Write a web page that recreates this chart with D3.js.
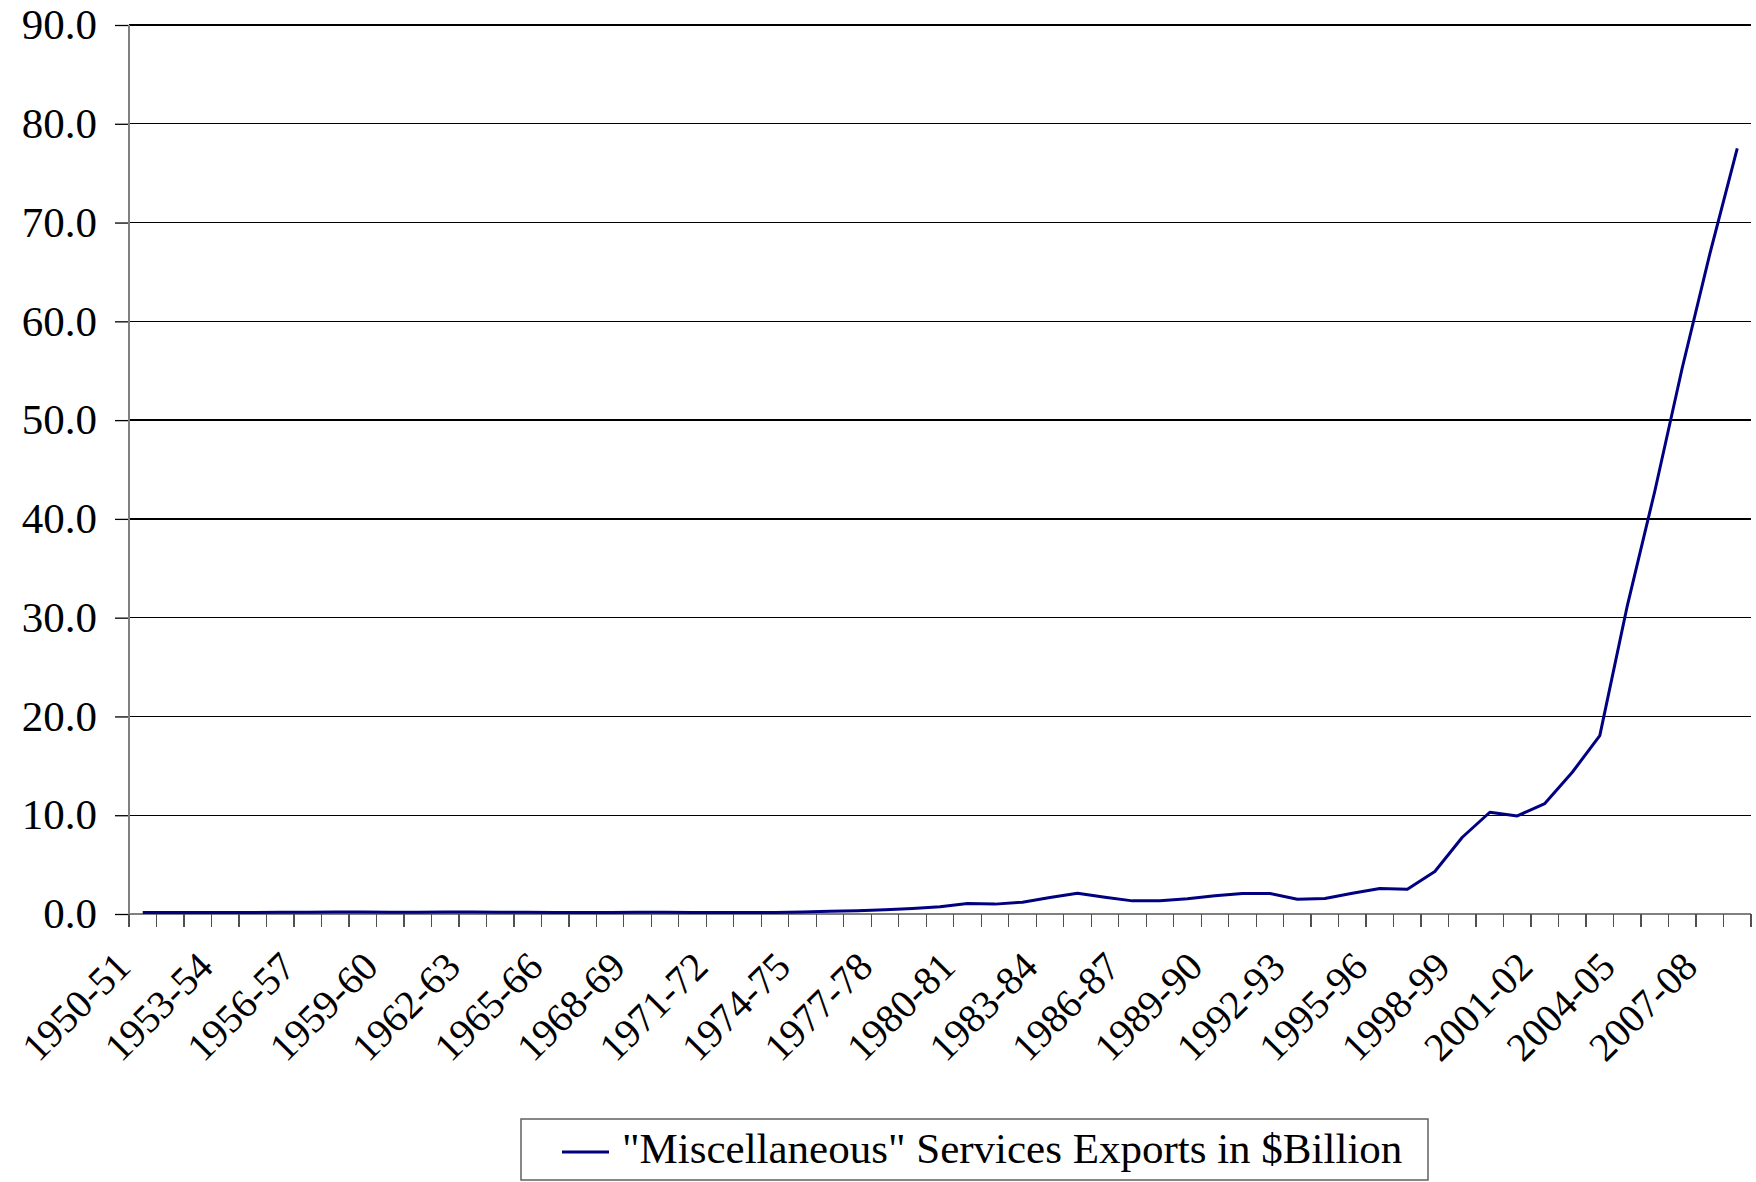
<!DOCTYPE html>
<meta charset="utf-8">
<style>
  body { margin: 0; background: #fff; }
  text { font-family: "Liberation Serif", "Times New Roman", serif; fill: #000; }
</style>
<svg width="1756" height="1182"></svg>
<script src="https://d3js.org/d3.v7.min.js"></script>
<script>

    // data (US$ billion)
    var years = ["1950-51","1951-52","1952-53","1953-54","1954-55","1955-56","1956-57","1957-58","1958-59","1959-60",
                 "1960-61","1961-62","1962-63","1963-64","1964-65","1965-66","1966-67","1967-68","1968-69","1969-70",
                 "1970-71","1971-72","1972-73","1973-74","1974-75","1975-76","1976-77","1977-78","1978-79","1979-80",
                 "1980-81","1981-82","1982-83","1983-84","1984-85","1985-86","1986-87","1987-88","1988-89","1989-90",
                 "1990-91","1991-92","1992-93","1993-94","1994-95","1995-96","1996-97","1997-98","1998-99","1999-00",
                 "2000-01","2001-02","2002-03","2003-04","2004-05","2005-06","2006-07","2007-08","2008-09"];

    var miscExports = [0.15, 0.15, 0.15, 0.15, 0.16, 0.17, 0.18, 0.19, 0.19, 0.18,
                       0.18, 0.19, 0.19, 0.18, 0.17, 0.15, 0.14, 0.16, 0.17, 0.17,
                       0.15, 0.14, 0.15, 0.16, 0.20, 0.28, 0.32, 0.42, 0.56, 0.73,
                       1.06, 1.00, 1.20, 1.67, 2.10, 1.70, 1.33, 1.35, 1.54, 1.84,
                       2.08, 2.08, 1.50, 1.57, 2.10, 2.58, 2.51, 4.30, 7.77, 10.30,
                       9.93, 11.18, 14.35, 18.06, 31.2, 42.8, 55.3, 66.8, 77.5];

    var yTicks = [0, 10, 20, 30, 40, 50, 60, 70, 80, 90];
    var seriesName = '"Miscellaneous" Services Exports in $Billion';

    var svg = d3.select("svg");

    var plotLeft = 129, plotRight = 1751, plotTop = 25, plotBottom = 914;

    var x = d3.scaleBand()
        .domain(years)
        .range([plotLeft, plotRight])
        .padding(0);

    var y = d3.scaleLinear()
        .domain([0, 90])
        .range([plotBottom, plotTop]);

    var bw = x.bandwidth();

    // horizontal gridlines
    svg.append("g")
        .selectAll("line")
        .data(yTicks)
        .join("line")
            .attr("x1", plotLeft)
            .attr("x2", plotRight)
            .attr("y1", function(d){ return y(d); })
            .attr("y2", function(d){ return y(d); })
            .attr("stroke", function(d){ return d === 0 ? "#808080" : "#000"; })
            .attr("stroke-width", 1.3)
            .attr("shape-rendering", "crispEdges");

    // y axis with labels
    var yAxis = svg.append("g")
        .attr("transform", "translate(" + plotLeft + ",0)")
        .call(d3.axisLeft(y)
            .tickValues(yTicks)
            .tickFormat(d3.format(".1f"))
            .tickSizeInner(14)
            .tickSizeOuter(0)
            .tickPadding(18));
    yAxis.select(".domain").remove();
    yAxis.selectAll(".tick line").attr("stroke", "#000").attr("stroke-width", 1.3);
    yAxis.selectAll("text").style("font-size", "43px").attr("fill", "#000");

    svg.append("line")
        .attr("x1", plotLeft).attr("x2", plotLeft)
        .attr("y1", plotTop).attr("y2", plotBottom + 13)
        .attr("stroke", "#808080")
        .attr("stroke-width", 1.5)
        .attr("shape-rendering", "crispEdges");

    // tick marks on the category boundaries
    var boundaries = years.map(function(d){ return x(d); }).concat([x.range()[1]]);
    svg.append("g")
        .selectAll("line")
        .data(boundaries)
        .join("line")
            .attr("x1", function(d){ return d; })
            .attr("x2", function(d){ return d; })
            .attr("y1", plotBottom)
            .attr("y2", plotBottom + 13)
            .attr("stroke", "#505050")
            .attr("stroke-width", 1.3)
            .attr("shape-rendering", "crispEdges");

    // x labels every third year, slanted
    var xAxis = svg.append("g")
        .attr("transform", "translate(0," + plotBottom + ")")
        .call(d3.axisBottom(x)
            .tickValues(years.filter(function(d, i){ return i % 3 === 0; }))
            .tickSize(0));
    xAxis.select(".domain").remove();
    xAxis.selectAll("text")
        .attr("y", 0)
        .attr("dy", null)
        .attr("text-anchor", "end")
        .attr("transform", "translate(-10,55) rotate(-45)")
        .style("font-size", "40px")
        .attr("fill", "#000");

    // the series
    var line = d3.line()
        .x(function(d, i){ return x(years[i]) + bw / 2; })
        .y(function(d){ return y(d); });

    svg.append("path")
        .datum(miscExports)
        .attr("d", line)
        .attr("fill", "none")
        .attr("stroke", "#000080")
        .attr("stroke-width", 3)
        .attr("stroke-linejoin", "round");

    // legend
    var legend = svg.append("g");
    legend.append("rect")
        .attr("x", 521).attr("y", 1119)
        .attr("width", 907).attr("height", 61)
        .attr("fill", "#fff")
        .attr("stroke", "#606060")
        .attr("stroke-width", 1.5);
    legend.append("line")
        .attr("x1", 562).attr("x2", 609)
        .attr("y1", 1152).attr("y2", 1152)
        .attr("stroke", "#000080")
        .attr("stroke-width", 3);
    legend.append("text")
        .attr("x", 622).attr("y", 1163)
        .style("font-size", "43px")
        .text(seriesName);

</script>
